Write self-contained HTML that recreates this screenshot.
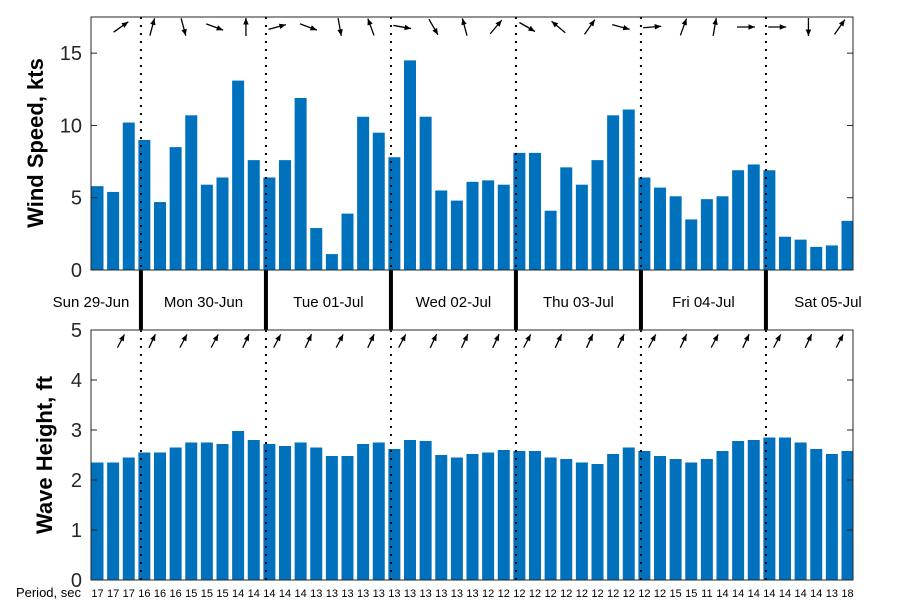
<!DOCTYPE html>
<html><head><meta charset="utf-8"><style>
html,body{margin:0;padding:0;background:#fff;}
svg{display:block;font-family:"Liberation Sans","DejaVu Sans",sans-serif;}
</style></head><body>
<svg id="c" width="900" height="600"></svg>
<script>
const windSpeed=[5.8,5.4,10.2,9.0,4.7,8.5,10.7,5.9,6.4,13.1,7.6,6.4,7.6,11.9,2.9,1.1,3.9,10.6,9.5,7.8,14.5,10.6,5.5,4.8,6.1,6.2,5.9,8.1,8.1,4.1,7.1,5.9,7.6,10.7,11.1,6.4,5.7,5.1,3.5,4.9,5.1,6.9,7.3,6.9,2.3,2.1,1.6,1.7,3.4];
const waveHeight=[2.35,2.35,2.45,2.55,2.55,2.65,2.75,2.75,2.72,2.98,2.8,2.72,2.68,2.75,2.65,2.48,2.48,2.72,2.75,2.62,2.8,2.78,2.5,2.45,2.52,2.55,2.6,2.58,2.58,2.45,2.42,2.35,2.32,2.52,2.65,2.58,2.48,2.42,2.35,2.42,2.58,2.78,2.8,2.85,2.85,2.75,2.62,2.52,2.58];
const period=[17,17,17,16,16,16,15,15,15,14,14,14,14,14,13,13,13,13,13,13,13,13,13,13,13,12,12,12,12,12,12,12,12,12,12,12,12,15,15,11,14,14,14,14,14,14,14,13,18];
const windDir=[35,75,-75,-20,90,15,-20,-80,110,-10,-60,105,50,-30,140,55,-15,5,70,80,0,0,-90,55];
const waveDir=[62,65,62,62,65,62,65,62,65,62,65,65,65,62,65,65,65,62,65,62,65,62,65,62];
const dayLabels=["Sun 29-Jun","Mon 30-Jun","Tue 01-Jul","Wed 02-Jul","Thu 03-Jul","Fri 04-Jul","Sat 05-Jul"];
const windTicks=[0,5,10,15];
const waveTicks=[0,1,2,3,4,5];

const svg=document.getElementById('c');
const NS='http://www.w3.org/2000/svg';
function mk(t,a,p){const e=document.createElementNS(NS,t);for(const k in a)e.setAttribute(k,a[k]);(p||svg).appendChild(e);return e;}
const X0=91,X1=853,step=15.625,c0=97.5,bw=12;
const xC=i=>c0+i*step;
const T={top:17,bot:270,max:17.5};const B={top:330,bot:580,max:5};
const yW=v=>T.bot-v/T.max*(T.bot-T.top);
const yH=v=>B.bot-v/B.max*(B.bot-B.top);
const dayX=k=>xC(3+8*k-0.22);

// bars
windSpeed.forEach((v,i)=>{const r=mk('rect',{x:xC(i)-bw/2,y:yW(v),width:bw,height:T.bot-yW(v),fill:'#0072bd'});
});
waveHeight.forEach((v,i)=>{const r=mk('rect',{x:xC(i)-bw/2,y:yH(v),width:bw,height:B.bot-yH(v),fill:'#0072bd'});
});

// dotted day lines
for(let k=0;k<6;k++){const x=dayX(k);
 [[T.top,T.bot],[B.top,B.bot]].forEach(([a,b])=>{const l=mk('line',{x1:x,x2:x,y1:a,y2:b,stroke:'#000','stroke-width':2,'stroke-dasharray':'2 6'});
 });
 const t=mk('line',{x1:x,x2:x,y1:T.bot,y2:B.top,stroke:'#000','stroke-width':4});
 }

// arrows
function arrow(cx,cy,deg,len,name){const a=deg*Math.PI/180,dx=Math.cos(a)*len/2,dy=-Math.sin(a)*len/2;
 const g=mk('g',{});
 const x1=cx-dx,y1=cy-dy,x2=cx+dx,y2=cy+dy;
 mk('line',{x1:x1,y1:y1,x2:x2,y2:y2,stroke:'#000','stroke-width':1.3},g);
 const h=7,w=0.4,ang=Math.atan2(y2-y1,x2-x1);
 const p1=[x2-h*Math.cos(ang-w),y2-h*Math.sin(ang-w)],p2=[x2-h*Math.cos(ang+w),y2-h*Math.sin(ang+w)];
 mk('polygon',{points:`${x2},${y2} ${p1} ${p2}`,fill:'#000'},g);}
windDir.forEach((d,j)=>arrow(xC(1.5+2*j),27,d,18,'wind-direction-arrow'));
waveDir.forEach((d,j)=>arrow(xC(1.5+2*j),341,d,15,'wave-direction-arrow'));

// axes boxes
[[T.top,T.bot,'wind-axes-box'],[B.top,B.bot,'wave-axes-box']].forEach(([a,b,n])=>{const r=mk('rect',{x:X0,y:a,width:X1-X0,height:b-a,fill:'none',stroke:'#262626','stroke-width':1});
 });

// ticks
windTicks.forEach(v=>{const y=yW(v);mk('line',{x1:X0,x2:X0+6,y1:y,y2:y,stroke:'#262626'});mk('line',{x1:X1,x2:X1-6,y1:y,y2:y,stroke:'#262626'});
 const t=mk('text',{x:X0-9,y:y+7,'text-anchor':'end','font-size':20,fill:'#262626'});t.textContent=v;
 });
waveTicks.forEach(v=>{const y=yH(v);mk('line',{x1:X0,x2:X0+6,y1:y,y2:y,stroke:'#262626'});mk('line',{x1:X1,x2:X1-6,y1:y,y2:y,stroke:'#262626'});
 const t=mk('text',{x:X0-9,y:y+7,'text-anchor':'end','font-size':20,fill:'#262626'});t.textContent=v;
 });

// titles
let t=mk('text',{x:0,y:0,transform:'translate(43,143) rotate(-90)','text-anchor':'middle','font-size':22,'font-weight':'bold',fill:'#000'});t.textContent='Wind Speed, kts';

t=mk('text',{x:0,y:0,transform:'translate(52,455) rotate(-90)','text-anchor':'middle','font-size':22,'font-weight':'bold',fill:'#000'});t.textContent='Wave Height, ft';


// day labels
dayLabels.forEach((s,k)=>{let cx;if(k===0)cx=91;else if(k===6)cx=828;else cx=(dayX(k-1)+dayX(k))/2;
 const e=mk('text',{x:cx,y:307,'text-anchor':'middle','font-size':15,fill:'#000'});e.textContent=s;
 });

// period row
t=mk('text',{x:81,y:597,'text-anchor':'end','font-size':13,fill:'#000'});t.textContent='Period, sec';

period.forEach((p,i)=>{const e=mk('text',{x:xC(i),y:597,'text-anchor':'middle','font-size':11,fill:'#000'});e.textContent=p;
 });
</script>
</body></html>
